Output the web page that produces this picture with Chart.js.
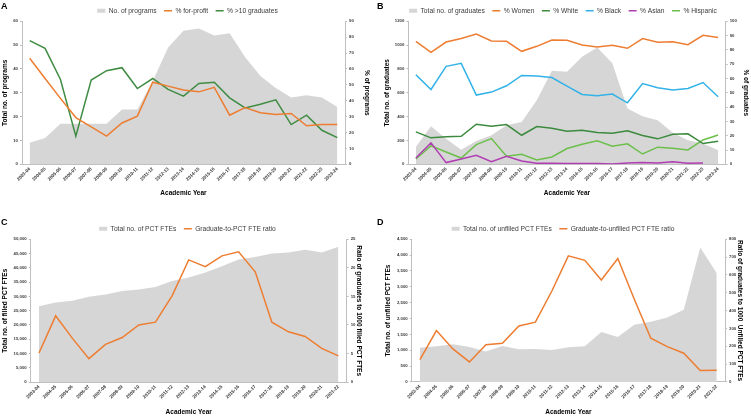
<!DOCTYPE html>
<html>
<head>
<meta charset="utf-8">
<script src="https://cdn.jsdelivr.net/npm/chart.js@4.4.1/dist/chart.umd.min.js"></script>
<style>
  html, body { margin: 0; padding: 0; background: #ffffff; }
  #wrap { position: relative; width: 751px; height: 416px; overflow: hidden; background: #fff; }
  .pn { position: absolute; }
  .letter { position: absolute; font-family: 'Liberation Sans', Arial, sans-serif; font-weight: bold; font-size: 9px; line-height: 9px; color: #000; }
</style>
</head>
<body>
<div id="wrap">
  <div class="pn" style="left:0;top:0;width:375px;height:208px;"><canvas id="cA" width="375" height="208"></canvas></div>
  <div class="pn" style="left:375px;top:0;width:376px;height:208px;"><canvas id="cB" width="376" height="208"></canvas></div>
  <div class="pn" style="left:0;top:208px;width:375px;height:208px;"><canvas id="cC" width="375" height="208"></canvas></div>
  <div class="pn" style="left:375px;top:208px;width:376px;height:208px;"><canvas id="cD" width="376" height="208"></canvas></div>
  <div class="letter" style="left:1px;top:2px;">A</div>
  <div class="letter" style="left:377px;top:2px;">B</div>
  <div class="letter" style="left:1px;top:218px;">C</div>
  <div class="letter" style="left:377px;top:218px;">D</div>
</div>
<script>
// ---------------- DATA ----------------
const yearsAB = ['2003-04','2004-05','2005-06','2006-07','2007-08','2008-09','2009-10','2010-11','2011-12','2012-13','2013-14','2014-15','2015-16','2016-17','2017-18','2018-19','2019-20','2020-21','2021-22','2022-23','2023-24'];
const yearsCD = ['2003-04','2004-05','2005-06','2006-07','2007-08','2008-09','2009-10','2010-11','2011-12','2012-13','2013-14','2014-15','2015-16','2016-17','2017-18','2018-19','2019-20','2020-21','2021-22'];

// Panel A
const programs   = [9, 11, 17, 17, 17, 17, 23, 23, 35, 49, 56, 57, 54, 55, 45, 37, 32, 28, 29, 28, 24];
const pctForProfit = [66.7, 54, 41.5, 29.4, 23.5, 17.7, 26, 30.3, 51.7, 49.2, 46.7, 45.6, 48.4, 30.9, 35.7, 32.4, 31.3, 32, 24.2, 25, 25];
const pctOver10  = [77.8, 73, 53.4, 17.7, 53, 58.9, 60.8, 47.7, 54, 47.1, 42.9, 50.9, 51.7, 41.8, 35.5, 37.8, 40.6, 25, 30.9, 21.4, 16.8];

// Panel B
const graduates  = [146, 320, 215, 123, 196, 244, 328, 356, 538, 785, 777, 903, 981, 847, 468, 404, 370, 264, 202, 174, 118];
const pctWomen   = [86, 78.3, 85.5, 88, 91.1, 86.2, 86, 79, 82.5, 86.9, 86.7, 83.4, 82, 83.2, 81.1, 87.9, 85.3, 85.7, 83.6, 90.2, 88.6];
const pctWhite   = [22.7, 18.5, 19.2, 19.6, 28, 26.6, 27.8, 20.3, 26.4, 25.2, 23.1, 23.8, 22.2, 21.7, 23.4, 20.1, 17.8, 21, 21.3, 14.5, 16.1];
const pctBlack   = [62.6, 52.3, 68.5, 70.6, 48.4, 50.5, 54.9, 62.1, 61.7, 60.7, 54.7, 48.8, 47.9, 49.1, 43, 56.5, 53.5, 51.9, 53, 57.2, 47.2];
const pctAsian   = [4.4, 15, 1.2, 3.7, 6.3, 1.9, 5.6, 2.3, 0.7, 0.7, 0.5, 0.5, 0.5, 0.2, 0.9, 1.2, 0.9, 1.7, 0.7, 0.9, null];
const pctHispanic= [3.7, 12.9, 8.6, 4.4, 13.8, 18, 5.6, 7, 3, 5.1, 11, 14, 16.4, 12.6, 14.3, 7.2, 12, 11.3, 10, 17, 20.5];

// Panel C
const filledFTE  = [26600, 27900, 28500, 29900, 30700, 31900, 32400, 33300, 35400, 36600, 38400, 40600, 42900, 43800, 45000, 45400, 46300, 45400, 47400];
const ratioFilled= [5.1, 11.6, 7.7, 4.1, 6.6, 7.8, 10, 10.5, 15.1, 21.4, 20.2, 22.1, 22.8, 19.3, 10.5, 8.8, 8, 5.9, 4.6];

// Panel D
const unfilledFTE  = [1080, 1125, 1190, 1100, 960, 1135, 1030, 1040, 1010, 1095, 1125, 1575, 1420, 1800, 1900, 2030, 2280, 4240, 3430];
const ratioUnfilled= [125, 288, 185, 112, 209, 217, 314, 335, 510, 707, 682, 572, 692, 464, 245, 198, 161, 64, 65];

// ---------------- STYLE ----------------
const FONT = "'Liberation Sans', Arial, sans-serif";
const GRAY_AREA = '#d6d6d6';
const AXIS = '#bfbfbf';
const TXT = '#3a3a3a';
const ORANGE = '#ED7D31';

function plainFmt(v) { return String(v); }
function commaFmt(v) { return Number(v).toLocaleString('en-US'); }

function buildPanel(canvasId, o) {
  const legendH = o.plotTop - o.padTop;
  const fixLegend = {
    id: 'fixLegend_' + canvasId,
    beforeInit(chart) {
      const lg = chart.legend;
      if (!lg) return;
      const orig = lg.fit;
      lg.fit = function () { orig.call(this); this.height = legendH; };
    }
  };
  const datasets = [{
    label: o.area.label,
    data: o.area.data,
    yAxisID: o.area.axis,
    fill: 'origin',
    backgroundColor: GRAY_AREA,
    borderColor: GRAY_AREA,
    borderWidth: 0,
    pointRadius: 0,
    pointStyle: 'rect',
    tension: 0
  }];
  o.lines.forEach(l => datasets.push({
    label: l.label,
    data: l.data,
    yAxisID: l.axis,
    fill: false,
    borderColor: l.color,
    backgroundColor: l.color,
    borderWidth: 1.5,
    pointRadius: 0,
    pointStyle: 'line',
    tension: 0,
    spanGaps: false
  }));

  const tickFont = { family: FONT, size: 4.3, weight: 'bold' };
  const titleFont = { family: FONT, size: 6.5, weight: 'bold' };

  new Chart(document.getElementById(canvasId), {
    type: 'line',
    data: { labels: o.labels, datasets },
    plugins: [fixLegend],
    options: {
      responsive: false,
      animation: false,
      devicePixelRatio: 1,
      layout: { padding: { top: o.padTop, bottom: o.padBottom, left: 0, right: 0 } },
      plugins: {
        filler: { propagate: false, drawTime: 'beforeDatasetsDraw' },
        tooltip: { enabled: false },
        legend: {
          display: true,
          position: 'top',
          labels: {
            font: { family: FONT, size: 6.7 },
            color: TXT,
            usePointStyle: true,
            pointStyleWidth: 8,
            boxHeight: 4,
            padding: 7.5,
            sort: (a, b) => a.datasetIndex - b.datasetIndex
          }
        }
      },
      scales: {
        x: {
          type: 'category',
          offset: true,
          afterFit: s => { s.height = o.xH; },
          grid: { display: false, drawTicks: false },
          border: { display: true, color: AXIS, width: 1 },
          ticks: { font: { family: FONT, size: 4.6, weight: 'bold' }, color: TXT, minRotation: 45, maxRotation: 45, autoSkip: false, padding: 2 },
          title: { display: true, text: 'Academic Year', font: titleFont, color: '#000', padding: { top: 0, bottom: 0 } }
        },
        yL: {
          position: 'left',
          min: 0, max: o.leftMax,
          afterFit: s => { s.width = o.plotLeft; },
          grid: { drawOnChartArea: false, drawTicks: true, tickLength: 2, color: AXIS },
          border: { display: true, color: AXIS, width: 1 },
          ticks: { stepSize: o.leftStep, font: tickFont, color: TXT, padding: 2, callback: o.leftFmt },
          title: { display: true, text: o.leftTitle, font: titleFont, color: '#000', padding: { top: o.leftTitlePad, bottom: 0 } }
        },
        yR: {
          position: 'right',
          min: 0, max: o.rightMax,
          afterFit: s => { s.width = o.rightW; },
          grid: { drawOnChartArea: false, drawTicks: true, tickLength: 2, color: AXIS },
          border: { display: true, color: AXIS, width: 1 },
          ticks: { stepSize: o.rightStep, font: tickFont, color: TXT, padding: 2, callback: o.rightFmt },
          title: { display: true, text: o.rightTitle, font: titleFont, color: '#000', padding: { top: o.rightTitlePad, bottom: 0 } }
        }
      }
    }
  });
}

// Panel A
buildPanel('cA', {
  labels: yearsAB,
  area: { label: 'No. of programs', data: programs, axis: 'yL' },
  lines: [
    { label: '% for-profit', data: pctForProfit, color: ORANGE, axis: 'yR' },
    { label: '% >10 graduates', data: pctOver10, color: '#3f8c42', axis: 'yR' }
  ],
  leftMax: 60, leftStep: 10, rightMax: 90, rightStep: 10,
  leftFmt: plainFmt, rightFmt: plainFmt,
  leftTitle: 'Total no. of programs', rightTitle: '% of programs',
  padTop: 0, plotTop: 21.3, padBottom: 11, xH: 32.7,
  plotLeft: 22, rightW: 30, leftTitlePad: 1.1, rightTitlePad: 4.1
});

// Panel B
buildPanel('cB', {
  labels: yearsAB,
  area: { label: 'Total no. of graduates', data: graduates, axis: 'yL' },
  lines: [
    { label: '% Women', data: pctWomen, color: ORANGE, axis: 'yR' },
    { label: '% White', data: pctWhite, color: '#3b8a3d', axis: 'yR' },
    { label: '% Black', data: pctBlack, color: '#33b2e8', axis: 'yR' },
    { label: '% Asian', data: pctAsian, color: '#b03db2', axis: 'yR' },
    { label: '% Hispanic', data: pctHispanic, color: '#6dbf4c', axis: 'yR' }
  ],
  leftMax: 1200, leftStep: 200, rightMax: 100, rightStep: 10,
  leftFmt: plainFmt, rightFmt: plainFmt,
  leftTitle: 'Total no. of graduates', rightTitle: '% of graduates',
  padTop: 0, plotTop: 21.3, padBottom: 11, xH: 32.7,
  plotLeft: 33.3, rightW: 25.3, leftTitlePad: 8.8, rightTitlePad: 1.4
});

// Panel C
buildPanel('cC', {
  labels: yearsCD,
  area: { label: 'Total no. of PCT FTEs', data: filledFTE, axis: 'yL' },
  lines: [
    { label: 'Graduate-to-PCT FTE ratio', data: ratioFilled, color: ORANGE, axis: 'yR' }
  ],
  leftMax: 50000, leftStep: 5000, rightMax: 25, rightStep: 5,
  leftFmt: commaFmt, rightFmt: plainFmt,
  leftTitle: 'Total no. of filled PCT FTEs', rightTitle: 'Ratio of graduates to 1000 filled PCT FTEs',
  padTop: 10, plotTop: 31.3, padBottom: 0, xH: 33.9,
  plotLeft: 30.7, rightW: 28.3, leftTitlePad: 1.1, rightTitlePad: 12.4
});

// Panel D
buildPanel('cD', {
  labels: yearsCD,
  area: { label: 'Total no. of unfilled PCT FTEs', data: unfilledFTE, axis: 'yL' },
  lines: [
    { label: 'Graduate-to-unfilled PCT FTE ratio', data: ratioUnfilled, color: ORANGE, axis: 'yR' }
  ],
  leftMax: 4500, leftStep: 500, rightMax: 800, rightStep: 100,
  leftFmt: commaFmt, rightFmt: plainFmt,
  leftTitle: 'Total no. of unfilled PCT FTEs', rightTitle: 'Ratio of graduates to 1000  Unfilled PCT FTEs',
  padTop: 10, plotTop: 31.3, padBottom: 0, xH: 34.1,
  plotLeft: 36.7, rightW: 26, leftTitlePad: 9.4, rightTitlePad: 7.8
});
</script>
</body>
</html>
